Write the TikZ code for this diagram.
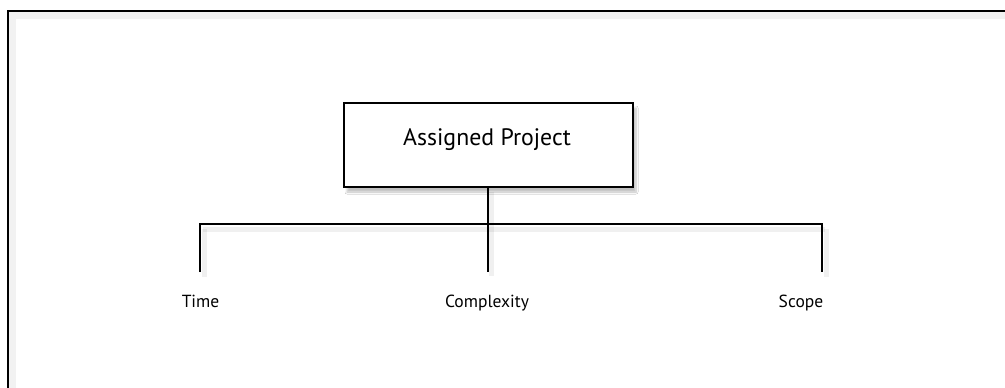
\documentclass[tikz,border=0pt]{standalone}
\usepackage{fontspec}
\setmainfont{PT Sans}
\usetikzlibrary{shadows.blur}
\begin{document}
\begin{tikzpicture}[x=1pt,y=-1pt,
  frameline/.style={line width=2pt,draw=black},
  link/.style={line width=1.4pt,draw=black},
  linkshadow/.style={line width=5pt,draw=black,opacity=0.06},
  topbox/.style={draw=black,line width=1.4pt,fill=white,minimum width=289pt,minimum height=84pt,
    blur shadow={shadow xshift=3pt,shadow yshift=-5pt,shadow opacity=25,shadow blur steps=6}},
  leaf/.style={inner sep=0pt,font=\fontsize{17.5}{21}\selectfont,anchor=base}
]
\useasboundingbox (0,0) rectangle (1005,388);
\fill[white] (0,0) rectangle (1005,388);
% outer frame with a soft inner shadow
\draw[line width=8pt,draw=black,opacity=0.05] (12,400) -- (12,15) -- (1020,15);
\draw[frameline] (8,400) -- (8,11) -- (1020,11);
% project box
\node[topbox] (proj) at (488.5,145) {};
\node[inner sep=0pt,anchor=base,font=\fontsize{23.8}{28}\selectfont] (projtxt) at (487,145) {Assigned Project};
% junction and branch ends
\coordinate (hub) at (488,224);
\coordinate (jl) at (200,224);
\coordinate (jr) at (822,224);
\coordinate (el) at (200,272);
\coordinate (em) at (488,272);
\coordinate (er) at (822,272);
% soft shadows under the connectors
\draw[linkshadow] ([shift={(3,4)}]proj.south -| hub) -- ([shift={(3,4)}]em);
\draw[linkshadow] ([shift={(3,5)}]jl) -- ([shift={(3,5)}]jr);
\draw[linkshadow] ([shift={(4,5)}]jl) -- ([shift={(4,5)}]el);
\draw[linkshadow] ([shift={(4,5)}]jr) -- ([shift={(4,5)}]er);
% connectors
\draw[link] (proj.south -| hub) -- (em);
\draw[link] (el) -- (jl) -- (jr) -- (er);
% labels
\node[leaf] (time) at (200.5,307) {Time};
\node[leaf] (cplx) at (487,307) {Complexity};
\node[leaf] (scope) at (801,307) {Scope};
\end{tikzpicture}
\end{document}
